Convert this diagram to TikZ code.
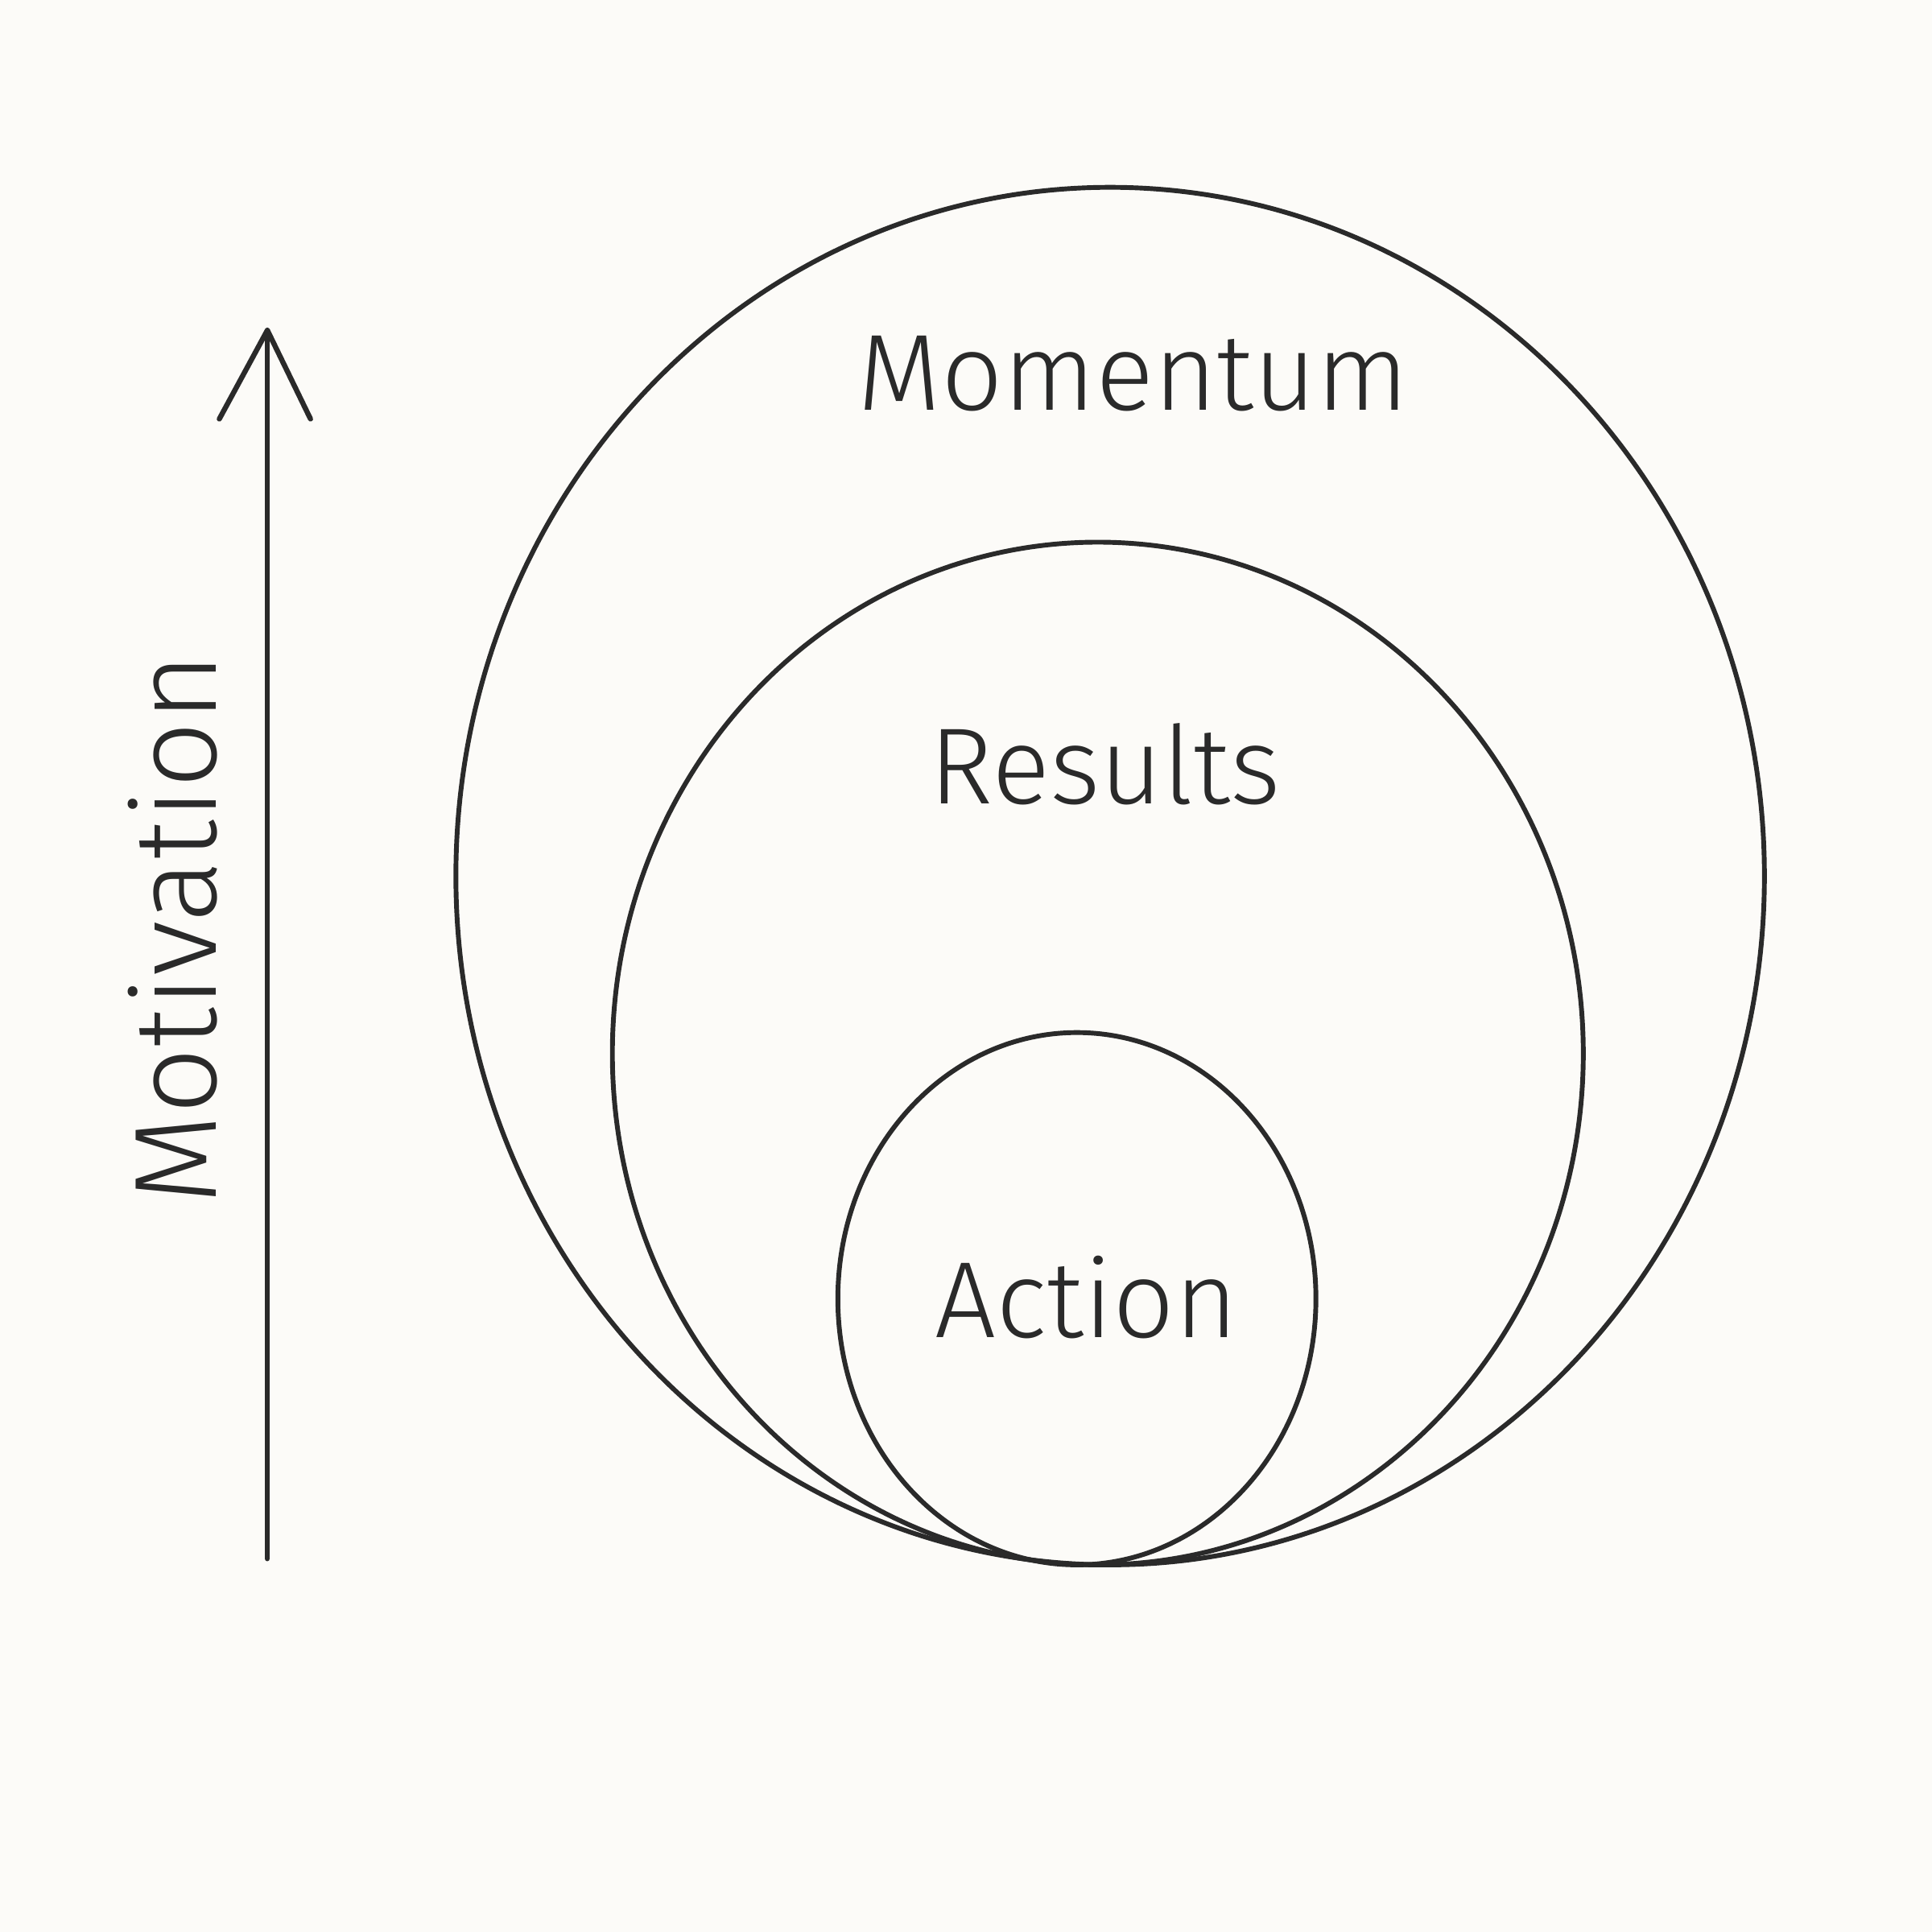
\documentclass[tikz,border=0pt]{standalone}
\usepackage{fontspec}
\setmainfont{Fira Sans Light}
\definecolor{paper}{HTML}{FCFBF8}
\definecolor{ink}{HTML}{2A2A2A}
\begin{document}
\begin{tikzpicture}[x=0.01cm,y=-0.01cm,
  ring/.style={draw=ink,line width=1.1pt},
  lbl/.style={text=ink,font=\fontsize{25}{30}\selectfont,inner sep=0pt}]
\fill[paper] (0,0) rectangle (1568,1568);
\useasboundingbox (0,0) rectangle (1568,1568);
\draw[ring] (901,711) ellipse [x radius=531,y radius=559];
\draw[ring] (891,855) ellipse [x radius=394,y radius=415];
\draw[ring] (874,1054) ellipse [x radius=194,y radius=216];
\node[lbl] (mom) at (920,303) {Momentum};
\node[lbl] (res) at (897,620) {Results};
\node[lbl] (act) at (882,1053) {Action};
\coordinate (a0) at (217,1265);
\coordinate (a1) at (217,268);
\coordinate (hl) at (178,340);
\coordinate (hr) at (252,340);
\draw[ink,line width=1.2pt,line cap=round,line join=round] (a0) -- (a1);
\draw[ink,line width=1.2pt,line cap=round,line join=round] (hl) -- (a1) -- (hr);
\node[lbl,rotate=90,font=\fontsize{27}{32}\selectfont] (mot) at (140,754) {Motivation};
\end{tikzpicture}
\end{document}
